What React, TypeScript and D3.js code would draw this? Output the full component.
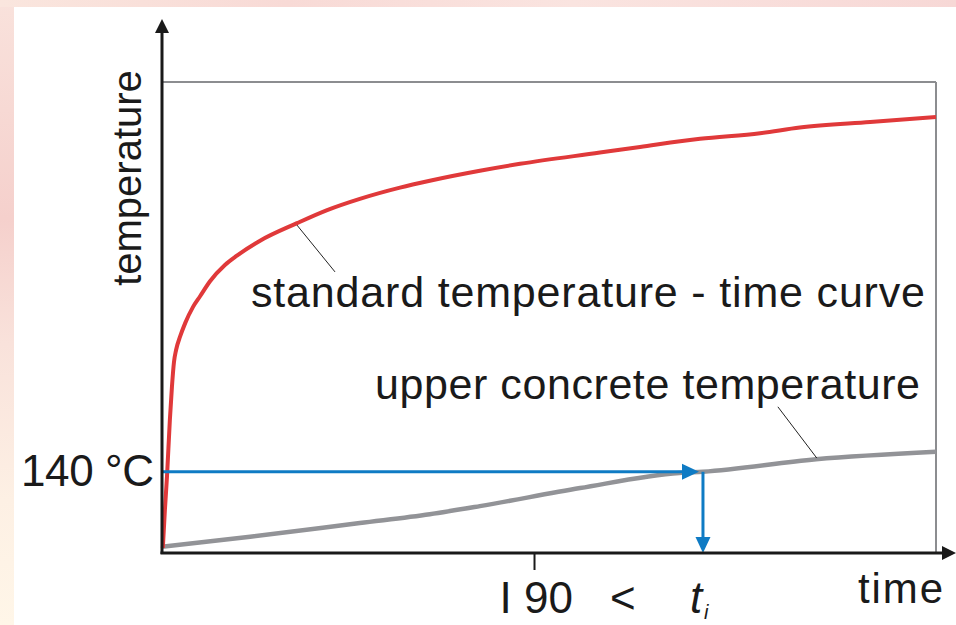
import React from "react";
import * as d3 from "d3";

// ---- data (time in min, temperature in °C) ----
const stdTime = [0.2, 0.7, 1.2, 1.9, 2.4, 2.9, 3.4, 4.4, 5.6, 7.5, 9.2, 11.6, 15.2, 18.1, 23.7, 32.6, 39.9, 47.8, 57.5, 64.7, 76.8, 86.5, 105.8, 115.5, 130, 144.5, 154.1, 171.1, 187];
const stdTemp = [18, 79, 132, 223, 276, 316, 335, 357, 378, 404, 421, 445, 471, 486, 510, 538, 559, 577, 595, 606, 622, 633, 651, 660, 673, 682, 691, 700, 708];

const concTime = [0, 21.3, 47.8, 64.7, 76.8, 101, 125, 130.7, 158, 187];
const concTemp = [20, 36, 58, 72, 85, 114, 138, 140, 160, 172];

const criticalTemp = 140;
const tiTime = 130.7;
const tickTimes = [90];
const tickLabels = ["I 90"];

const W = 956;
const H = 625;
const FONT = "'Liberation Sans', Arial, Helvetica, sans-serif";

export default function App() {
  const x = d3.scaleLinear().domain([0, 187]).range([162, 936]);
  const y = d3.scaleLinear().domain([10, 764]).range([553, 82]);

  const line = d3
    .line<[number, number]>()
    .x((d) => x(d[0]))
    .y((d) => y(d[1]))
    .curve(d3.curveMonotoneX);

  const stdPts = stdTime.map((t, i) => [t, stdTemp[i]] as [number, number]);
  const concPts = concTime.map((t, i) => [t, concTemp[i]] as [number, number]);

  const [x0, x1] = x.range();
  const [y0, y1] = y.range();
  const yc = y(criticalTemp);
  const xt = x(tiTime);

  // leader anchors (data units)
  const redLeader = [[32.6, 535], [41.8, 460]];
  const grayLeader = [[148.8, 244], [158.2, 162]];

  return (
    <svg
      width={W}
      height={H}
      style={{ position: "absolute", left: 0, top: 0, display: "block" }}
      fontFamily={FONT}
    >
      <defs>
        <linearGradient id="leftBand" x1="0" y1="0" x2="0" y2="1">
          <stop offset="0" stopColor="#f9e2dc" />
          <stop offset="0.35" stopColor="#f5d0cc" />
          <stop offset="0.55" stopColor="#f9e2db" />
          <stop offset="0.8" stopColor="#fdf0e4" />
          <stop offset="1" stopColor="#fff6e8" />
        </linearGradient>
        <linearGradient id="topBand" x1="0" y1="0" x2="1" y2="0">
          <stop offset="0" stopColor="#fae6de" />
          <stop offset="0.3" stopColor="#f8dad6" />
          <stop offset="0.6" stopColor="#fae4e0" />
          <stop offset="1" stopColor="#f7d8d6" />
        </linearGradient>
      </defs>
      <rect x={0} y={0} width={W} height={H} fill="url(#leftBand)" />
      <rect x={0} y={0} width={W} height={7} fill="url(#topBand)" />
      <rect x={14} y={7} width={W - 14} height={H - 7} fill="#ffffff" />

      {/* frame (top & right) */}
      <line x1={x0} y1={y1} x2={x1} y2={y1} stroke="#8c8d90" strokeWidth={2} />
      <line x1={x1} y1={y1} x2={x1} y2={y0} stroke="#8c8d90" strokeWidth={2} />

      {/* curves */}
      <path d={line(concPts) || ""} fill="none" stroke="#929397" strokeWidth={4.5} />
      <path d={line(stdPts) || ""} fill="none" stroke="#e0393a" strokeWidth={4} strokeLinejoin="round" />

      {/* leaders */}
      <line
        x1={x(redLeader[0][0])}
        y1={y(redLeader[0][1])}
        x2={x(redLeader[1][0])}
        y2={y(redLeader[1][1])}
        stroke="#222"
        strokeWidth={1}
      />
      <line
        x1={x(grayLeader[0][0])}
        y1={y(grayLeader[0][1])}
        x2={x(grayLeader[1][0])}
        y2={y(grayLeader[1][1])}
        stroke="#222"
        strokeWidth={1}
      />

      {/* blue construction */}
      <line x1={x0} y1={yc} x2={xt - 18} y2={yc} stroke="#0f7bc4" strokeWidth={3} />
      <path
        d={`M${xt - 4},${yc} L${xt - 21},${yc - 8} L${xt - 21},${yc + 8} Z`}
        fill="#0f7bc4"
      />
      <line x1={xt} y1={yc} x2={xt} y2={y0 - 14} stroke="#0f7bc4" strokeWidth={3} />
      <path
        d={`M${xt},${y0} L${xt - 7.5},${y0 - 16} L${xt + 7.5},${y0 - 16} Z`}
        fill="#0f7bc4"
      />

      {/* axes */}
      <line x1={x0} y1={y0 + 1} x2={x0} y2={30} stroke="#1a1a1a" strokeWidth={3} />
      <path d={`M${x0},19 L${x0 - 7},33 L${x0 + 7},33 Z`} fill="#1a1a1a" />
      <line x1={x0 - 1.5} y1={y0} x2={944} y2={y0} stroke="#1a1a1a" strokeWidth={3} />
      <path d={`M956,${y0} L942,${y0 - 7} L942,${y0 + 7} Z`} fill="#1a1a1a" />

      {tickTimes.map((t) => (
        <line key={t} x1={x(t)} y1={y0} x2={x(t)} y2={y0 + 17} stroke="#1a1a1a" strokeWidth={2} />
      ))}

      {/* texts */}
      <text
        transform={`translate(141,178) rotate(-90)`}
        textAnchor="middle"
        fontSize={40}
        fill="#1a1a1a"
      >
        temperature
      </text>
      <text x={251} y={307} fontSize={43} fill="#1a1a1a" textLength={674} lengthAdjust="spacing">
        standard temperature - time curve
      </text>
      <text x={375} y={399} fontSize={43} fill="#1a1a1a" textLength={545} lengthAdjust="spacing">
        upper concrete temperature
      </text>
      <text x={21} y={486} fontSize={44} fill="#1a1a1a" textLength={133} lengthAdjust="spacing">
        {`${criticalTemp} °C`}
      </text>
      {tickTimes.map((t, i) => (
        <text key={t} x={x(t) - 35} y={613} fontSize={44} fill="#1a1a1a">
          {tickLabels[i]}
        </text>
      ))}
      <text x={610} y={613} fontSize={44} fill="#1a1a1a">
        {"<"}
      </text>
      <text x={xt - 13} y={613} fontSize={44} fontStyle="italic" fill="#1a1a1a">
        t
      </text>
      <text x={xt + 1} y={619} fontSize={20} fontStyle="italic" fill="#1a1a1a">
        i
      </text>
      <text x={858} y={603} fontSize={42} fill="#1a1a1a" textLength={85} lengthAdjust="spacing">
        time
      </text>
    </svg>
  );
}
